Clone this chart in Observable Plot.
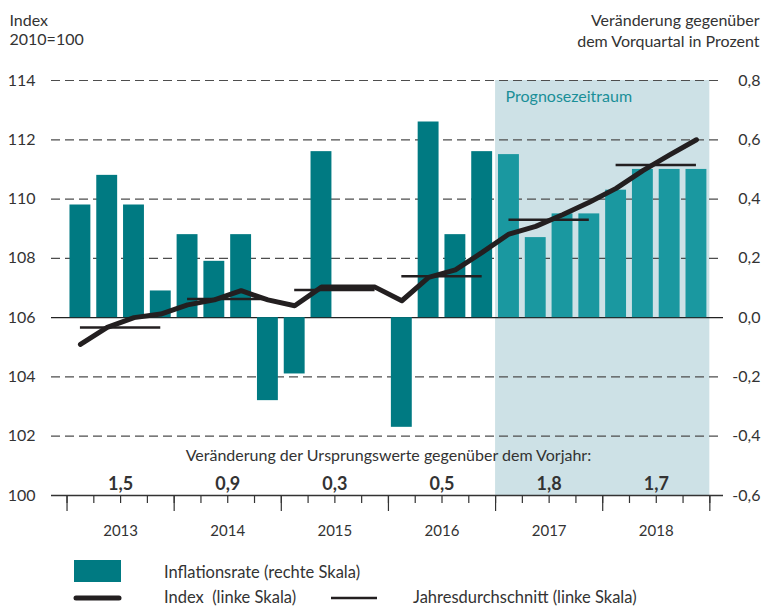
<!DOCTYPE html>
<html><head><meta charset="utf-8">
<script src="https://cdn.jsdelivr.net/npm/d3@7"></script>
<script src="https://cdn.jsdelivr.net/npm/@observablehq/plot@0.6"></script>
<style>
body{margin:0;background:#fff;font-family:Lato,sans-serif;}
#wrap{position:relative;width:762px;height:609px;overflow:hidden;}
#wrap svg{position:absolute;left:0;top:0;}
</style></head><body><div id="wrap"></div>
<script>
// ---- data ----
const years = [2013, 2014, 2015, 2016, 2017, 2018];
const yearChanges = ["1,5", "0,9", "0,3", "0,5", "1,8", "1,7"];
const yearAverages = [105.67, 106.63, 106.93, 107.4, 109.3, 111.15];
// quarterly inflation rate vs. previous quarter (%), right scale
const inflation = [0.38, 0.48, 0.38, 0.09, 0.28, 0.19, 0.28, -0.28, -0.19, 0.56, 0, 0,
                   -0.37, 0.66, 0.28, 0.56, 0.55, 0.27, 0.35, 0.35, 0.43, 0.50, 0.50, 0.50];
// price index 2010=100, left scale
const indexValues = [105.1, 105.67, 106.0, 106.12, 106.43, 106.6, 106.91, 106.6, 106.4, 107.03, 107.03, 107.03,
                     106.57, 107.36, 107.61, 108.2, 108.82, 109.08, 109.47, 109.89, 110.36, 110.96, 111.49, 112.0];
const forecastStart = 16;
const leftTicks = [100, 102, 104, 106, 108, 110, 112, 114];

// ---- derived ----
const zeroIndex = 106;            // index level that matches 0,0 on the right scale
const rightPerLeft = 0.1;         // 2 index points = 0,2 %
const toLeft = v => zeroIndex + v / rightPerLeft;
const quarters = inflation.map((v, i) => ({i, v, idx: indexValues[i], forecast: i >= forecastStart}));
const yearData = years.map((y, k) => ({k, year: y, avg: yearAverages[k], change: yearChanges[k]}));
const nQ = quarters.length;
const fmtRight = d => { const r = Math.round((d - zeroIndex) * rightPerLeft * 10) / 10; return r.toFixed(1).replace(".", ","); };

const ink = "#231f20";
const txt = "#333";

const chart = Plot.plot({
  width: 762, height: 609,
  marginTop: 80, marginBottom: 114, marginLeft: 51, marginRight: 39,
  style: {fontFamily: "Lato, sans-serif", fontSize: "16px", color: txt, background: "transparent"},
  x: {type: "linear", domain: [-0.58, 24.51], axis: null},
  y: {domain: [100, 114], axis: null},
  marks: [
    Plot.rect([{a: forecastStart, b: nQ}], {x1: "a", x2: "b", y1: 100, y2: 114, fill: "#cde1e6"}),
    Plot.ruleY(leftTicks.filter(d => d !== 100 && d !== zeroIndex), {stroke: "#4d4d4d", strokeWidth: 1.2, strokeDasharray: "9,5"}),
    Plot.ruleY([zeroIndex], {stroke: "#222", strokeWidth: 1.2}),
    Plot.rectY(quarters.filter(d => !d.forecast), {x1: d => d.i + 0.11, x2: d => d.i + 0.89, y1: zeroIndex, y2: d => toLeft(d.v), fill: "#007a82"}),
    Plot.rectY(quarters.filter(d => d.forecast), {x1: d => d.i + 0.11, x2: d => d.i + 0.89, y1: zeroIndex, y2: d => toLeft(d.v), fill: "#1a98a0"}),
    Plot.ruleY([100], {stroke: "#333", strokeWidth: 1.3}),
    Plot.axisX({ticks: d3.range(0, nQ + 1), tickSize: 8, tickFormat: () => "", stroke: "#333", strokeWidth: 1.2, label: null}),
    Plot.axisX({ticks: d3.range(0, nQ + 1, 4), tickSize: 16, tickFormat: () => "", stroke: "#333", strokeWidth: 1.2, label: null}),
    Plot.axisX({ticks: years.map((y, k) => k * 4 + 2), tickSize: 0, tickPadding: 30, tickFormat: d => String(years[Math.round((d - 2) / 4)]), fontSize: 15, fill: txt, label: null}),
    Plot.axisY({anchor: "left", ticks: leftTicks, tickSize: 0, tickPadding: 16, tickFormat: d => String(d), fontSize: 16, fill: txt, label: null}),
    Plot.axisY({anchor: "right", ticks: leftTicks, tickSize: 0, tickPadding: 37, textAnchor: "end", tickFormat: fmtRight, fontSize: 16, fill: txt, label: null}),
    Plot.ruleY(yearData, {x1: d => d.k * 4 + 0.5, x2: d => d.k * 4 + 3.5, y: "avg", stroke: ink, strokeWidth: 2.5}),
    Plot.line(quarters, {x: d => d.i + 0.5, y: "idx", stroke: ink, strokeWidth: 5, strokeLinejoin: "round", strokeLinecap: "round"}),
    Plot.text(yearData, {x: d => d.k * 4 + 2, y: 100, text: "change", dy: -6, lineAnchor: "bottom", fontWeight: "bold", fontSize: 18, fill: txt}),
    Plot.text(["Veränderung der Ursprungswerte gegenüber dem Vorjahr:"], {x: nQ / 2, y: 100, dy: -35, lineAnchor: "bottom", fontSize: 16, fill: txt}),
    Plot.text(["Prognosezeitraum"], {x: forecastStart, y: 114, dx: 10, dy: 21, lineAnchor: "bottom", textAnchor: "start", fontSize: 16, fill: "#1a8f98"}),
    Plot.text(["Index\n2010=100"], {frameAnchor: "top-left", dx: -42, dy: -68.4, lineAnchor: "top", textAnchor: "start", lineHeight: 1.19, fontSize: 16, fill: txt}),
    Plot.text(["Veränderung gegenüber\ndem Vorquartal in Prozent"], {frameAnchor: "top-right", dx: 36, dy: -69.4, lineAnchor: "top", textAnchor: "end", lineHeight: 1.31, fontSize: 16, fill: txt})
  ]
});
const wrap = document.getElementById("wrap");
wrap.appendChild(chart);

// legend (overlay)
const ns = "http://www.w3.org/2000/svg";
const leg = document.createElementNS(ns, "svg");
leg.setAttribute("width", 762); leg.setAttribute("height", 609);
leg.innerHTML = `
<g font-family="Lato, sans-serif" font-size="16.5" fill="${txt}">
  <rect x="74" y="560" width="47" height="22" fill="#007a82"/>
  <text x="164" y="578">Inflationsrate (rechte Skala)</text>
  <line x1="76" x2="119" y1="598" y2="598" stroke="${ink}" stroke-width="5" stroke-linecap="round"/>
  <text x="164" y="603" xml:space="preserve">Index  (linke Skala)</text>
  <line x1="331" x2="377" y1="598" y2="598" stroke="${ink}" stroke-width="2.5"/>
  <text x="413" y="603">Jahresdurchschnitt (linke Skala)</text>
</g>`;
wrap.appendChild(leg);
</script>
</body></html>
